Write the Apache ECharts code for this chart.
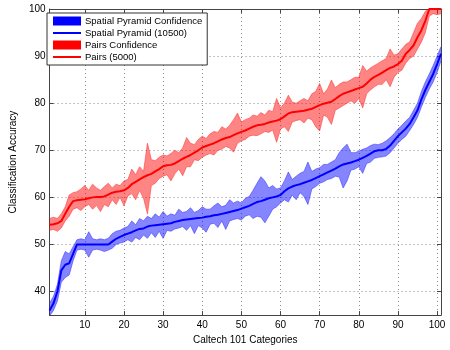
<!DOCTYPE html>
<html>
<head>
<meta charset="utf-8">
<script src="https://cdn.jsdelivr.net/npm/echarts@6/dist/echarts.min.js"></script>
<style>
  html, body { margin: 0; padding: 0; background: #fff; }
  #chart { width: 450px; height: 350px; }
</style>
</head>
<body>
<div id="chart"></div>
<script>
// categories 1..101 (sorted by accuracy)
const categories = Array.from({length: 101}, (_, i) => String(i + 1));

// Spatial Pyramid (10500)
const spMean = [
  36.0, 37.5, 40.0, 44.5, 45.7, 46.0, 48.0, 50.0, 50.0, 50.0,
  50.0, 50.0, 50.0, 50.0, 50.0, 50.0, 50.6, 51.2, 51.6, 52.0,
  52.3, 52.6, 53.0, 53.3, 53.4, 53.8, 54.0, 54.1, 54.2, 54.3,
  54.4, 54.5, 54.8, 55.0, 55.2, 55.3, 55.4, 55.5, 55.6, 55.7,
  55.9, 56.0, 56.2, 56.3, 56.5, 56.7, 56.9, 57.1, 57.3, 57.6,
  57.9, 58.2, 58.6, 59.0, 59.2, 59.5, 59.8, 60.0, 60.2, 60.5,
  61.3, 61.9, 62.3, 62.6, 62.8, 63.1, 63.4, 63.7, 64.1, 64.5,
  64.9, 65.3, 65.7, 66.1, 66.6, 67.0, 67.2, 67.4, 67.7, 68.0,
  68.4, 68.8, 69.3, 69.8, 70.0, 70.0, 70.3, 71.0, 72.0, 73.0,
  73.8, 74.6, 75.6, 77.0, 78.5, 80.8, 82.8, 84.5, 86.2, 88.3,
  90.5
];
const spLow = [
  34.8, 36.0, 38.0, 42.0, 43.0, 43.5, 46.5, 48.8, 49.0, 48.8,
  47.3, 48.8, 49.0, 48.8, 48.5, 48.8, 49.2, 50.0, 50.3, 50.5,
  51.0, 50.5, 51.5, 51.0, 52.0, 51.3, 52.5, 51.5, 52.8, 51.3,
  53.0, 52.8, 53.3, 53.5, 53.8, 53.0, 54.0, 52.3, 54.0, 53.5,
  52.6, 54.3, 54.5, 53.6, 55.0, 53.2, 55.0, 55.3, 55.5, 55.2,
  56.0, 56.3, 55.5, 56.0, 55.8, 54.6, 56.0, 57.5, 58.0, 58.8,
  59.5, 59.0, 60.5, 59.5, 61.0, 60.2, 58.5, 61.8, 62.3, 63.0,
  63.3, 63.8, 64.0, 64.5, 64.3, 62.0, 63.5, 65.8, 66.0, 66.5,
  65.1, 67.2, 67.5, 68.3, 68.5, 68.6, 68.8, 69.5, 70.5, 71.5,
  72.3, 73.0, 74.2, 75.5, 77.0, 79.2, 81.2, 83.0, 84.5, 86.5,
  89.0
];
const spHigh = [
  37.5, 39.0, 41.5, 46.5, 48.5, 48.0, 49.5, 51.0, 51.2, 51.0,
  52.7, 51.2, 51.0, 51.2, 51.0, 51.3, 52.3, 52.8, 53.0, 53.5,
  53.8, 55.0, 54.2, 55.5, 55.0, 56.0, 55.5, 56.5, 55.8, 57.0,
  56.0, 56.5, 56.2, 57.5, 56.8, 57.0, 57.8, 56.8, 57.2, 58.0,
  57.5, 57.5, 58.2, 58.8, 58.0, 58.3, 59.5, 58.8, 59.2, 58.8,
  59.8, 60.2, 61.5, 63.0, 64.4, 63.5, 62.0, 62.5, 61.8, 62.0,
  63.5, 65.4, 63.8, 64.5, 65.1, 65.5, 67.5, 65.5, 66.0, 66.3,
  67.0, 67.0, 67.5, 68.0, 69.5, 70.5, 71.3, 69.5, 69.5, 69.8,
  70.2, 70.5, 71.0, 71.3, 71.2, 71.5, 72.0, 72.7, 73.5, 74.5,
  75.3, 76.2, 77.0, 78.5, 80.0, 82.5, 84.5, 86.2, 88.0, 90.0,
  92.0
];

// Pairs (5000)
const prMean = [
  54.2, 54.3, 54.5, 55.0, 56.5, 58.0, 59.2, 59.4, 59.5, 59.6,
  59.8, 60.0, 60.1, 60.1, 60.2, 60.6, 61.0, 61.2, 61.3, 61.5,
  62.0, 62.8, 63.3, 63.8, 64.3, 64.7, 65.0, 65.5, 66.0, 66.6,
  66.8, 66.9, 67.2, 67.7, 68.2, 68.6, 69.0, 69.5, 70.0, 70.6,
  70.9, 71.2, 71.5, 71.9, 72.3, 72.6, 72.8, 73.2, 73.6, 73.9,
  74.2, 74.6, 75.0, 75.3, 75.4, 75.6, 75.9, 76.1, 76.3, 76.6,
  77.2, 77.8, 78.1, 78.2, 78.3, 78.4, 78.6, 78.8, 79.2, 79.6,
  79.9, 80.1, 80.3, 80.9, 81.5, 82.0, 82.3, 82.6, 82.9, 83.2,
  83.5, 84.2, 85.0, 85.6, 86.0, 86.5, 87.0, 87.5, 87.8, 88.3,
  89.0, 90.5, 91.3, 92.3, 94.0, 95.5, 97.5, 100.0, 100.0, 100.0,
  100.0
];
const prLow = [
  53.0, 53.2, 52.8, 53.5, 55.0, 56.0, 57.5, 57.8, 57.2, 58.0,
  58.5, 57.5, 58.3, 57.0, 58.5, 58.0, 59.5, 58.5, 60.0, 58.2,
  60.3, 60.8, 59.5, 61.5, 59.8, 56.5, 62.5, 63.0, 64.0, 64.5,
  64.8, 63.5, 65.0, 66.0, 64.6, 66.5, 66.5, 68.0, 67.8, 68.5,
  69.0, 69.3, 69.0, 70.0, 70.2, 70.8, 70.5, 69.6, 71.5, 72.0,
  72.3, 73.0, 73.2, 73.1, 73.5, 74.0, 73.8, 74.3, 71.7, 74.5,
  75.0, 74.0, 76.0, 76.3, 76.5, 75.8, 76.8, 76.5, 75.0, 74.1,
  77.5, 77.0, 75.5, 78.5, 79.0, 79.5, 80.0, 80.5, 80.0, 81.0,
  79.0, 82.0, 82.8, 83.5, 84.0, 84.0, 85.0, 83.5, 85.5, 86.5,
  87.0, 88.5, 89.5, 90.0, 91.5, 93.0, 95.0, 98.5, 99.0, 98.8,
  99.0
];
const prHigh = [
  55.5, 55.8, 55.5, 56.5, 58.0, 60.5, 61.0, 61.2, 61.8, 62.5,
  61.5, 62.8, 62.0, 61.5, 62.3, 63.0, 62.0, 62.8, 62.5, 63.5,
  63.8, 66.0, 64.8, 66.5, 65.5, 71.5, 68.0, 67.8, 68.5, 69.0,
  68.8, 69.3, 70.0, 69.5, 70.5, 72.7, 71.5, 71.2, 72.3, 73.0,
  72.5, 73.5, 74.0, 73.8, 75.0, 74.5, 75.3, 76.5, 77.9, 76.0,
  76.5, 76.8, 77.5, 77.2, 78.0, 77.5, 78.5, 78.2, 81.0, 79.0,
  80.0, 81.7, 80.2, 80.0, 80.5, 81.0, 80.5, 82.0, 82.5, 84.2,
  82.0, 83.0, 84.9, 83.3, 84.0, 84.5, 84.5, 85.0, 85.5, 85.5,
  88.0, 86.8, 87.5, 88.0, 88.5, 89.0, 89.5, 91.5, 90.2, 90.5,
  91.5, 92.5, 93.0, 95.0, 97.0, 98.0, 99.5, 100.0, 100.0, 100.0,
  100.0
];

const spSpan = spHigh.map((v, i) => +(v - spLow[i]).toFixed(2));
const prSpan = prHigh.map((v, i) => +(v - prLow[i]).toFixed(2));

const chart = echarts.init(document.getElementById('chart'), null, {renderer: 'canvas'});

const font = 'Liberation Sans, Arial, sans-serif';
const gridLine = {show: true, lineStyle: {color: '#8c8c8c', type: [1, 3], width: 1}};
const tickEvery10 = (idx, val) => Number(val) % 10 === 0;

// band: base series at the lower bound + stacked span with fill
function band(name, stack, low, span, fill, edge) {
  return [
    {
      name: stack + '-base', type: 'line', stack: stack, data: low,
      symbol: 'none', silent: true, z: 2,
      lineStyle: {color: edge, width: 0.8}
    },
    {
      name: name, type: 'line', stack: stack, data: span,
      symbol: 'none', silent: true, z: 2,
      itemStyle: {color: edge},
      lineStyle: {color: edge, width: 0.8},
      areaStyle: {color: fill, opacity: 1, origin: 'auto'}
    }
  ];
}

chart.setOption({
  animation: false,
  textStyle: {fontFamily: font},
  grid: {left: 43, right: 9, top: 9, bottom: 28, containLabel: false},
  legend: {
    orient: 'vertical', left: 47, top: 13,
    backgroundColor: '#fff', borderColor: '#333', borderWidth: 1,
    padding: [3, 5, 3, 5], itemGap: 2, itemWidth: 28, itemHeight: 9,
    textStyle: {fontSize: 9.5, color: '#000', fontFamily: font, padding: [0, 0, 0, -1]},
    data: [
      {name: 'Spatial Pyramid Confidence', icon: 'rect', itemStyle: {color: '#0000ff', opacity: 1, borderWidth: 0}},
      {name: 'Spatial Pyramid (10500)', itemStyle: {opacity: 0}},
      {name: 'Pairs Confidence', icon: 'rect', itemStyle: {color: '#ff0000', opacity: 1, borderWidth: 0}},
      {name: 'Pairs (5000)', itemStyle: {opacity: 0}}
    ]
  },
  xAxis: [
    {
      type: 'category', data: categories, boundaryGap: false,
      name: 'Caltech 101 Categories', nameLocation: 'middle', nameGap: 17,
      nameTextStyle: {fontSize: 10, color: '#000', fontFamily: font},
      axisLine: {show: true, lineStyle: {color: '#444', width: 1}},
      axisTick: {show: true, inside: true, length: 4, interval: tickEvery10, lineStyle: {color: '#444'}},
      axisLabel: {interval: tickEvery10, fontSize: 10, color: '#000', margin: 5, fontFamily: font},
      splitLine: Object.assign({interval: tickEvery10}, gridLine)
    },
    {
      type: 'category', data: categories, boundaryGap: false, position: 'top',
      axisLine: {show: true, lineStyle: {color: '#444', width: 1}},
      axisTick: {show: true, inside: true, length: 4, interval: tickEvery10, lineStyle: {color: '#444'}},
      axisLabel: {show: false}, splitLine: {show: false}
    }
  ],
  yAxis: [
    {
      type: 'value', min: 35, max: 100, splitNumber: 6,
      name: 'Classification Accuracy', nameLocation: 'middle', nameGap: 18,
      nameTextStyle: {fontSize: 10, color: '#000', fontFamily: font},
      axisLine: {show: true, lineStyle: {color: '#444', width: 1}},
      axisTick: {show: true, inside: true, length: 4, lineStyle: {color: '#444'}},
      axisLabel: {fontSize: 10, color: '#000', margin: 4, showMinLabel: false, fontFamily: font},
      splitLine: gridLine
    },
    {
      type: 'value', min: 35, max: 100, splitNumber: 6, position: 'right',
      axisLine: {show: true, lineStyle: {color: '#444', width: 1}},
      axisTick: {show: true, inside: true, length: 4, lineStyle: {color: '#444'}},
      axisLabel: {show: false}, splitLine: {show: false}
    }
  ],
  series: [
    ...band('Spatial Pyramid Confidence', 'sp', spLow, spSpan, 'rgba(0,0,255,0.48)', 'rgba(50,50,255,0.7)'),
    ...band('Pairs Confidence', 'pr', prLow, prSpan, 'rgba(255,0,0,0.48)', 'rgba(255,50,50,0.7)'),
    {
      name: 'Spatial Pyramid (10500)', type: 'line', data: spMean, symbol: 'none', z: 3,
      itemStyle: {color: '#0000ff'}, lineStyle: {color: '#0000ff', width: 2}
    },
    {
      name: 'Pairs (5000)', type: 'line', data: prMean, symbol: 'none', z: 3,
      itemStyle: {color: '#ff0000'}, lineStyle: {color: '#ff0000', width: 2}
    }
  ]
});
</script>
</body>
</html>
